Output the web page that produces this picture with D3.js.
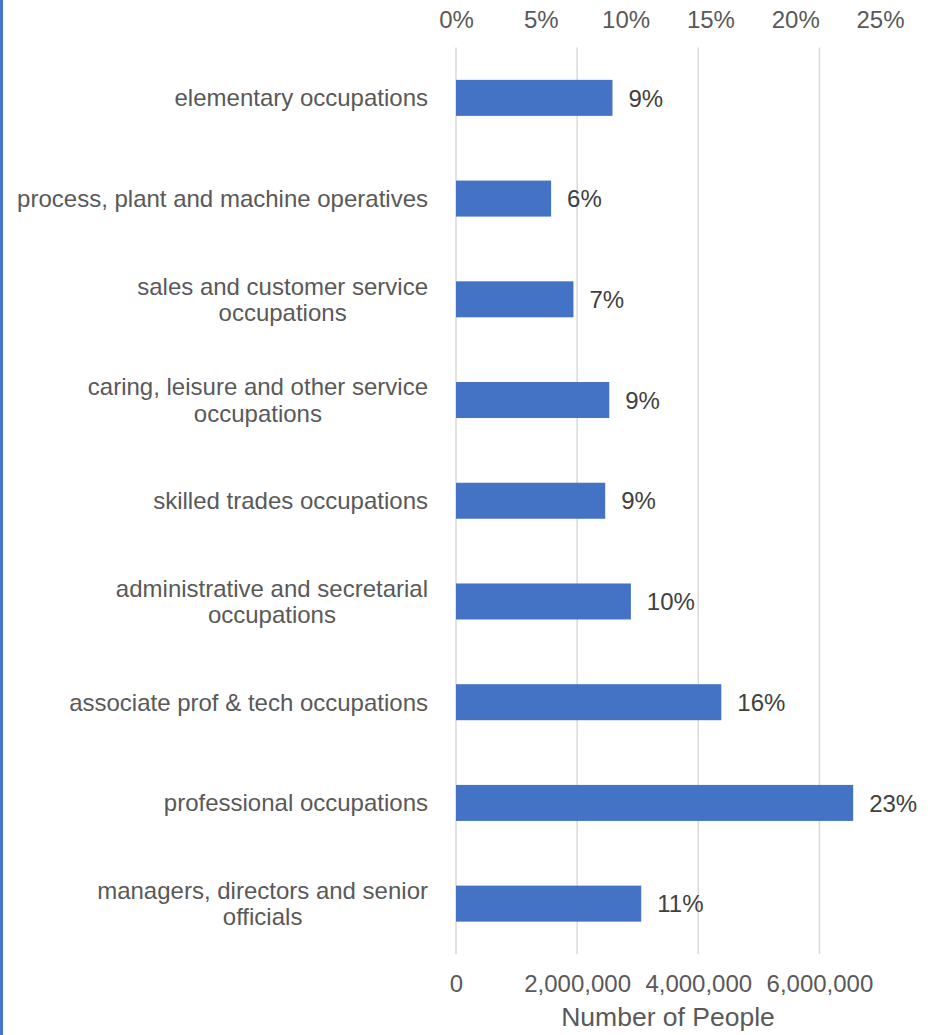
<!DOCTYPE html>
<html>
<head>
<meta charset="utf-8">
<script src="https://cdn.jsdelivr.net/npm/d3@7"></script>
<style>
  html, body { margin: 0; padding: 0; background: #ffffff; }
  svg { display: block; }
  text { font-family: "Liberation Sans", Arial, sans-serif; }
</style>
</head>
<body>
<svg id="chart" width="934" height="1035"></svg>
<script>
// Occupation groups, top to bottom
const categories = [
  "elementary occupations",
  "process, plant and machine operatives",
  "sales and customer service occupations",
  "caring, leisure and other service occupations",
  "skilled trades occupations",
  "administrative and secretarial occupations",
  "associate prof & tech occupations",
  "professional occupations",
  "managers, directors and senior officials"
];
// How each category label is wrapped
const labelLines = [
  ["elementary occupations"],
  ["process, plant and machine operatives"],
  ["sales and customer service", "occupations"],
  ["caring, leisure and other service", "occupations"],
  ["skilled trades occupations"],
  ["administrative and secretarial", "occupations"],
  ["associate prof & tech occupations"],
  ["professional occupations"],
  ["managers, directors and senior", "officials"]
];
// Number of people in each occupation group
const people = [2583000, 1570000, 1939000, 2530000, 2463000, 2887000, 4380000, 6557000, 3058000];
// Axis ticks
const countTicks = [0, 2000000, 4000000, 6000000];
const shareTicks = [0, 0.05, 0.10, 0.15, 0.20, 0.25];
const axisTitle = "Number of People";

const svg = d3.select("#chart");
const W = 934, H = 1035;
const plot = { left: 456, right: 880, top: 47.5, bottom: 954 };
const fontSize = 24;

const x = d3.scaleLinear().domain([0, 7000000]).range([plot.left, plot.right]);
const xShare = d3.scaleLinear().domain([0, 0.25]).range([plot.left, plot.right]);
const y = d3.scaleBand().domain(categories).range([plot.top, plot.bottom])
  .paddingInner(0.6425).paddingOuter(0.32125);

const total = d3.sum(people);
const shareFmt = d3.format(".0%");
const countFmt = d3.format(",");

// Left border stripe
svg.append("rect").attr("x", 0).attr("y", 0).attr("width", 3).attr("height", H)
  .attr("fill", "#4a78d0");
svg.append("rect").attr("x", 1).attr("y", 0).attr("width", 1).attr("height", H)
  .attr("fill", "#3f6cc4");

// Vertical gridlines at the count ticks
svg.append("g").selectAll("line").data(countTicks).join("line")
  .attr("x1", d => x(d)).attr("x2", d => x(d))
  .attr("y1", plot.top).attr("y2", plot.bottom)
  .attr("stroke", "#d9d9d9").attr("stroke-width", 1.5);

// Bottom axis (counts)
const bottomAxis = d3.axisBottom(x).tickValues(countTicks)
  .tickFormat(d => countFmt(d)).tickSize(0).tickPadding(0);
const gb = svg.append("g").attr("transform", `translate(0, 975)`).call(bottomAxis);
gb.select(".domain").remove();
gb.selectAll("text").attr("fill", "#595959").attr("font-size", fontSize)
  .attr("dy", "0.71em");

// Top axis (share of total)
const topAxis = d3.axisTop(xShare).tickValues(shareTicks)
  .tickFormat(d => shareFmt(d)).tickSize(0).tickPadding(0);
const gt = svg.append("g").attr("transform", `translate(0, 28)`).call(topAxis);
gt.select(".domain").remove();
gt.selectAll("text").attr("fill", "#595959").attr("font-size", fontSize).attr("dy", 0);

// Bars
svg.append("g").selectAll("rect").data(categories).join("rect")
  .attr("x", x(0))
  .attr("y", d => y(d))
  .attr("width", (d, i) => x(people[i]) - x(0))
  .attr("height", y.bandwidth())
  .attr("fill", "#4472c4");

// Data labels: share of total
svg.append("g").selectAll("text").data(categories).join("text")
  .attr("x", (d, i) => x(people[i]) + 16)
  .attr("y", d => y(d) + y.bandwidth() / 2)
  .attr("dy", "0.36em")
  .attr("font-size", fontSize)
  .attr("fill", "#404040")
  .text((d, i) => shareFmt(people[i] / total));

// Category labels: block right-aligned to the axis, lines centered within it
const labelRight = 428;
const lineGap = 26.5;
const cats = svg.append("g").selectAll("text").data(categories).join("text")
  .attr("text-anchor", "middle")
  .attr("font-size", fontSize)
  .attr("fill", "#595959")
  .attr("y", d => y(d) + y.bandwidth() / 2);
cats.each(function(d, i) {
  const lines = labelLines[i];
  const t = d3.select(this);
  const offset = -(lines.length - 1) / 2 * lineGap;
  const spans = lines.map((ln, k) => t.append("tspan")
    .attr("dy", k === 0 ? (offset + 8.5) : lineGap)
    .text(ln));
  const widest = d3.max(spans, s => s.node().getComputedTextLength());
  spans.forEach(s => s.attr("x", labelRight - widest / 2));
});

// Axis title
svg.append("text")
  .attr("x", (plot.left + plot.right) / 2)
  .attr("y", 1026)
  .attr("text-anchor", "middle")
  .attr("font-size", 26.5)
  .attr("fill", "#595959")
  .text(axisTitle);
</script>
</body>
</html>
